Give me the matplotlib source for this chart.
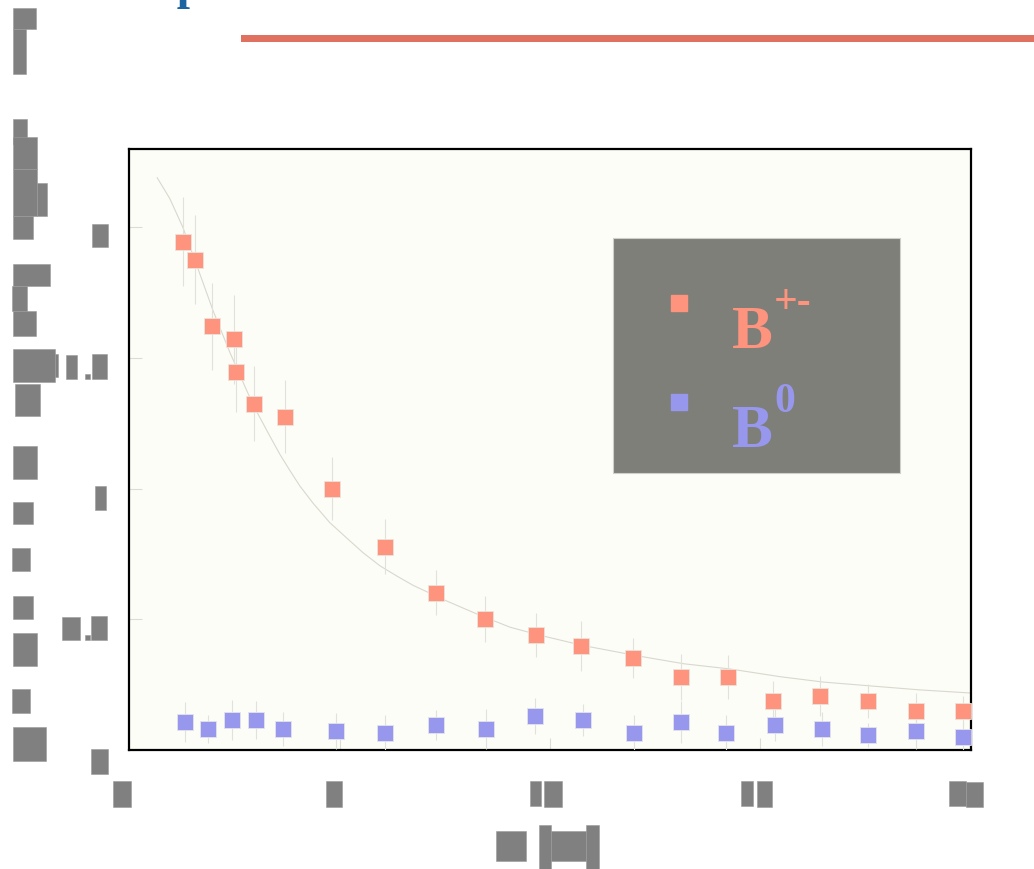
import matplotlib
matplotlib.use("Agg")
import matplotlib.pyplot as plt
from matplotlib.patches import Rectangle
from matplotlib.lines import Line2D

# ---- measured points -------------------------------------------------------
charged_x = [1.28, 1.57, 1.97, 2.49, 2.54, 2.97, 3.71, 4.82, 6.08, 7.29, 8.46,
             9.67, 10.74, 11.97, 13.11, 14.23, 15.30, 16.41, 17.55, 18.69, 19.81]
charged_y = [1.946, 1.877, 1.621, 1.571, 1.448, 1.326, 1.276, 1.000, 0.778, 0.602,
             0.502, 0.441, 0.398, 0.352, 0.280, 0.280, 0.188, 0.207, 0.188, 0.149, 0.149]
charged_err = [0.17, 0.17, 0.165, 0.17, 0.155, 0.145, 0.14, 0.12, 0.105, 0.085,
               0.088, 0.084, 0.096, 0.077, 0.088, 0.084, 0.077, 0.077, 0.065, 0.069, 0.057]

neutral_x = [1.33, 1.88, 2.45, 3.02, 3.66, 4.92, 6.08, 7.29, 8.48, 9.64,
             10.78, 12.00, 13.11, 14.18, 15.34, 16.46, 17.55, 18.69, 19.81]
neutral_y = [0.107, 0.080, 0.115, 0.115, 0.080, 0.073, 0.065, 0.096, 0.080, 0.130,
             0.115, 0.065, 0.107, 0.065, 0.096, 0.080, 0.057, 0.073, 0.050]
neutral_err = [0.077, 0.054, 0.077, 0.073, 0.065, 0.069, 0.069, 0.057, 0.077, 0.069,
               0.061, 0.069, 0.080, 0.069, 0.061, 0.065, 0.046, 0.069, 0.057]

# fitted curve, sampled
fit_x = [0.67, 0.97, 1.28, 1.62, 2.00, 2.40, 2.95, 3.35, 3.59, 3.82, 4.06, 4.37,
         4.77, 5.18, 5.56, 5.96, 6.37, 6.75, 7.15, 7.55, 8.27, 9.05, 9.74, 10.78,
         12.09, 13.18, 14.28, 15.49, 16.49, 17.63, 18.79, 20.00]
fit_y = [2.19, 2.11, 2.00, 1.85, 1.68, 1.52, 1.32, 1.20, 1.13, 1.07, 1.01, 0.945,
         0.87, 0.81, 0.755, 0.705, 0.665, 0.63, 0.60, 0.57, 0.52, 0.47, 0.44, 0.40,
         0.36, 0.33, 0.31, 0.28, 0.26, 0.245, 0.23, 0.218]

x_ticks = [0, 5, 10, 15, 20]
y_ticks = [0, 0.5, 1.0, 1.5, 2.0]
legend_labels = [("B", "+-"), ("B", "0")]
title_text = "Decomposition"

RED = "#FE937E"
BLUE = "#9797EE"

W, H = 1034, 870
fig = plt.figure(figsize=(W / 100, H / 100), dpi=100)
fig.patch.set_facecolor("white")


def box(x0, y0, x1, y1, **kw):
    """Rectangle given in pixel units from the top-left corner."""
    r = Rectangle((x0 / W, 1 - y1 / H), (x1 - x0) / W, (y1 - y0) / H,
                  transform=fig.transFigure, **kw)
    fig.add_artist(r)
    return r


# ---- plot area -------------------------------------------------------------
ax = fig.add_axes([129 / W, (H - 751) / H, (971 - 129) / W, (751 - 150) / H])
ax.set_facecolor("#FDFDF7")
ax.set_xlim(0, 20)
ax.set_ylim(0, 2.30)
for s in ax.spines.values():
    s.set_linewidth(1.6)
    s.set_color("black")
ax.set_xticks(x_ticks)
ax.set_yticks(y_ticks)
ax.tick_params(direction="in", length=9, width=0.8, color="#dcdcd4",
               labelbottom=False, labelleft=False)

ax.plot(fit_x, fit_y, color="#d8d8ce", lw=0.8, zorder=2)
ax.errorbar(charged_x, charged_y, yerr=charged_err, fmt="none",
            ecolor="#e2e2dc", elinewidth=0.8, zorder=3)
ax.errorbar(neutral_x, neutral_y, yerr=neutral_err, fmt="none",
            ecolor="#e2e2dc", elinewidth=0.8, zorder=3)
ax.plot(charged_x, charged_y, "s", ms=11.5, color=RED, mec="#ece4dc",
        mew=0.6, zorder=4)
ax.plot(neutral_x, neutral_y, "s", ms=11.5, color=BLUE, mec="#e4e4ec",
        mew=0.6, zorder=4)

# ---- legend panel ----------------------------------------------------------
box(613, 239, 900, 474, facecolor="#7f7f79", edgecolor="#d0d0c8", lw=0.8,
    zorder=5)
for (base, sup), col, yb, ym in zip(legend_labels, [RED, BLUE],
                                    [348, 447], [304, 403]):
    fig.add_artist(Line2D([679 / W], [1 - ym / H], marker="s", ms=11.5,
                          color=col, mec=col, transform=fig.transFigure,
                          zorder=6))
    fig.text(732 / W, 1 - yb / H, base, fontsize=44, fontweight="bold",
             family="Liberation Serif", color=col, ha="left", va="baseline",
             zorder=6)
    fig.text(774 / W, 1 - (yb - 35) / H, sup, fontsize=30, fontweight="bold",
             family="Liberation Serif", color=col, ha="left", va="baseline",
             zorder=6)

# ---- header ----------------------------------------------------------------
fig.text(38 / W, 1 + 0.6 / H, title_text, fontsize=34, fontweight="bold",
         family="Liberation Serif", color="#1b64a0", ha="left", va="baseline")
box(241, 36, 1034, 43, facecolor="#E07060", edgecolor="none")

# ---- masked captions (axis title, tick labels) -------------------------------
GREY = dict(facecolor="#808080", edgecolor="#9a9a9a", lw=0.4)
side_blocks = [(13, 9, 36, 30), (13, 30, 26, 75), (13, 120, 27, 145),
               (13, 138, 37, 170), (13, 170, 37, 217), (37, 184, 47, 217),
               (13, 217, 33, 240), (13, 265, 50, 287), (12, 287, 27, 312),
               (13, 312, 36, 337), (13, 350, 55, 383), (55, 355, 58, 378),
               (15, 385, 40, 417), (13, 447, 37, 480), (13, 503, 33, 525),
               (12, 549, 30, 572), (13, 597, 33, 620), (13, 634, 37, 667),
               (12, 690, 30, 714), (13, 728, 46, 762)]
ytick_blocks = [(92, 225, 108, 248),
                (66, 356, 77, 380), (85, 375, 90, 380), (92, 355, 107, 380),
                (95, 487, 106, 511),
                (62, 618, 80, 641), (85, 636, 90, 641), (91, 617, 107, 641),
                (91, 750, 108, 775)]
xtick_blocks = [(113, 782, 131, 808), (326, 782, 342, 808),
                (530, 782, 541, 807), (544, 782, 562, 808),
                (741, 782, 753, 807), (757, 782, 772, 808),
                (949, 782, 966, 807), (966, 783, 983, 808)]
xlabel_blocks = [(496, 832, 526, 862), (539, 826, 551, 870),
                 (551, 832, 586, 862), (586, 826, 599, 870)]
for b in side_blocks + ytick_blocks + xtick_blocks + xlabel_blocks:
    box(*b, **GREY)

fig.savefig("out.png", dpi=100, facecolor="white")
